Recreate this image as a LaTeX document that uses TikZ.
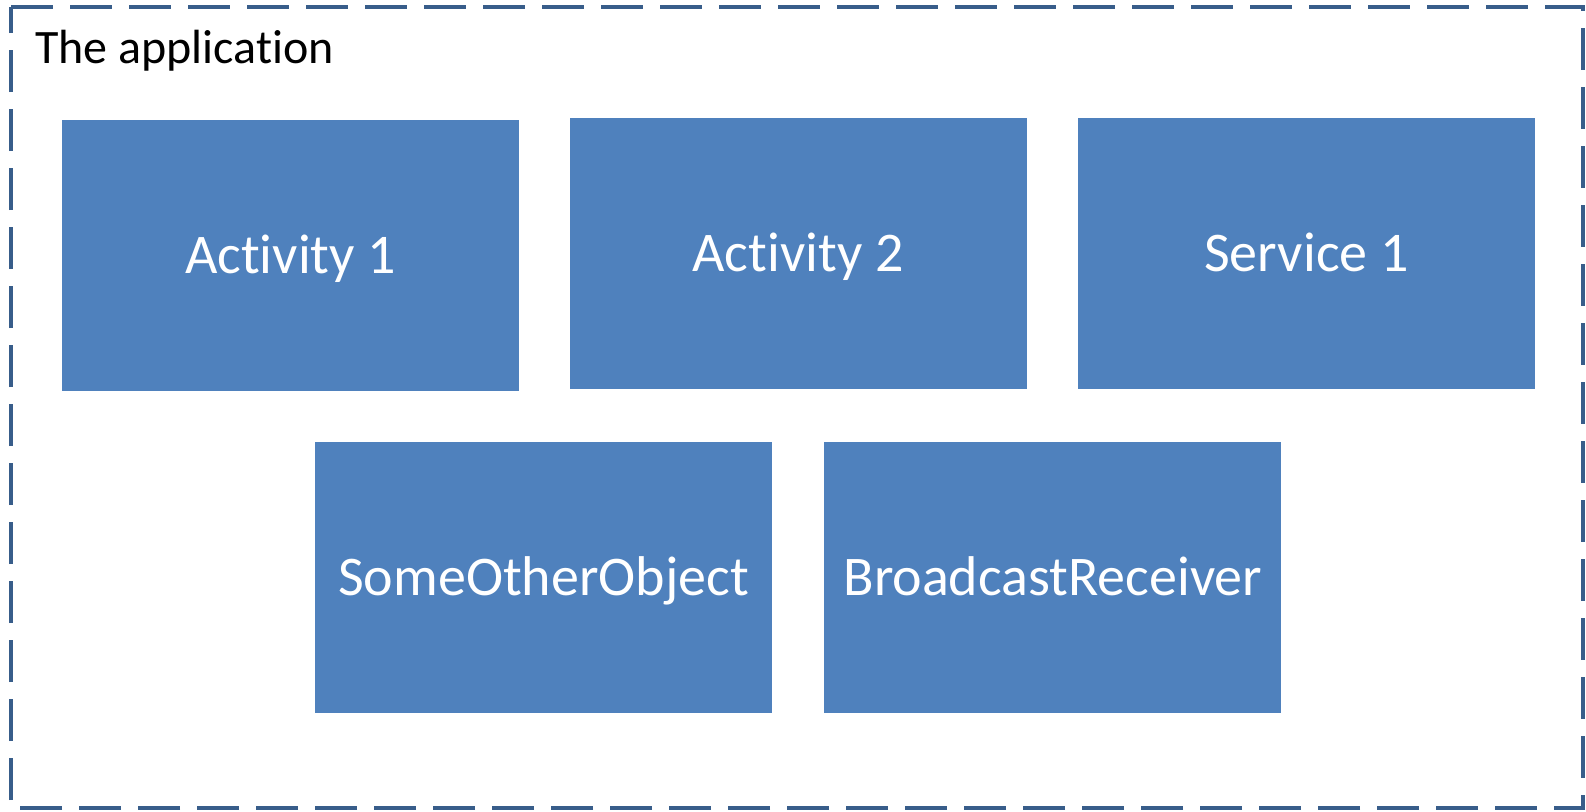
\documentclass[tikz,border=0pt]{standalone}
\usepackage{fontspec}
\setmainfont{Carlito}[Ligatures=NoCommon]
\usepackage{tikz}
\usetikzlibrary{positioning}
\definecolor{boxblue}{HTML}{4F81BD}
\definecolor{framebl}{RGB}{56,93,138}
\begin{document}
\begin{tikzpicture}[
      x=1pt,y=-1pt,
      every node/.style={inner sep=0pt,font=\fontsize{56}{67}\selectfont},
      part/.style={fill=boxblue,text=white,minimum width=457pt,minimum height=271pt,
        text height=35pt,text depth=0pt},
      frame/.style={draw=framebl,line width=4pt,dash pattern=on 42pt off 17pt}
    ]
      \useasboundingbox (0,0) rectangle (1586,811);
      \draw[frame] (11,7) -- (1583,7) -- (1583,808) -- (11,808) -- cycle;
      \node[anchor=base west,font=\fontsize{48}{58}\selectfont] (title) at (35,63) {The application};
      % first row
      \node[part] (act1) at (290.5,255.5) {Activity 1};
      \node[part] (act2) at (798,253.5) {Activity 2};
      \node[part,right=51pt of act2] (srv1) {Service 1};
      % second row
      \node[part] (other) at (543.5,577.5) {SomeOtherObject};
      \node[part,right=52pt of other] (receiver) {BroadcastReceiver};
\end{tikzpicture}
\end{document}
